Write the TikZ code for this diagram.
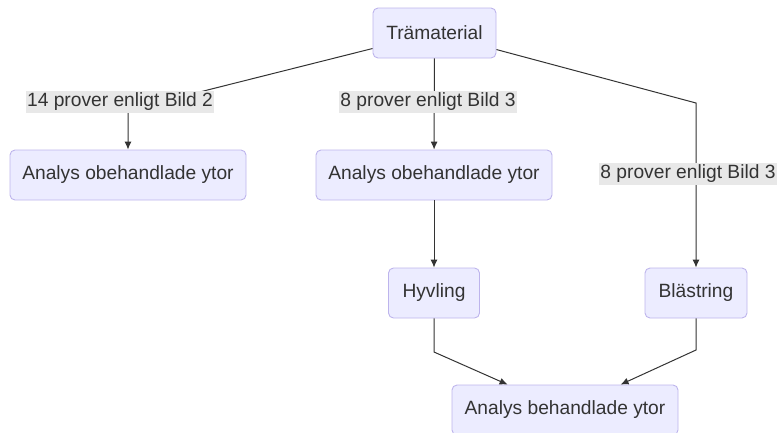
\documentclass[tikz,border=0pt]{standalone}
\usepackage{fontspec}
\setmainfont{Liberation Sans}
\usetikzlibrary{arrows.meta}
\definecolor{boxfill}{HTML}{ECECFF}
\definecolor{boxline}{HTML}{BDB4EC}
\definecolor{txt}{HTML}{333333}
\definecolor{lblfill}{HTML}{E8E8E8}
\begin{document}
\begin{tikzpicture}[x=1pt,y=-1pt,
  box/.style={draw=boxline,fill=boxfill,line width=0.9pt,rounded corners=5pt,
    text=txt,font=\fontsize{19.2}{22}\selectfont,inner sep=0pt,minimum height=50pt},
  lbl/.style={fill=lblfill,text=txt,font=\fontsize{19.2}{22}\selectfont,inner xsep=1pt,inner ysep=2pt},
  edge/.style={draw=txt,line width=1pt,-{Latex[length=8pt,width=7pt]}}]
\useasboundingbox (0,0) rectangle (778,432);
\node[box,minimum width=123pt] (tm) at (434.5,33) {Trämaterial};
\node[box,minimum width=236pt] (ob1) at (128,175) {Analys obehandlade ytor};
\node[box,minimum width=236pt] (ob2) at (434,175) {Analys obehandlade ytor};
\node[box,minimum width=91pt] (hy) at (434,293) {Hyvling};
\node[box,minimum width=102pt] (bl) at (696,293) {Blästring};
\node[box,minimum width=226pt] (ab) at (565,410) {Analys behandlade ytor};
\coordinate (c1) at (128,110);
\coordinate (c2) at (696,103);
\coordinate (c3) at (434,352);
\coordinate (c4) at (696,350);
\draw[edge] (tm) -- (c1) -- (ob1);
\draw[edge] (tm) -- (ob2);
\draw[edge] (tm) -- (c2) -- (bl);
\draw[edge] (ob2) -- (hy);
\draw[edge] (hy) -- (c3) -- (ab);
\draw[edge] (bl) -- (c4) -- (ab);
\node[lbl] (l1) at (120,102) {14 prover enligt Bild 2};
\node[lbl] (l2) at (428,102) {8 prover enligt Bild 3};
\node[lbl] (l3) at (688,174) {8 prover enligt Bild 3};
\end{tikzpicture}
\end{document}
